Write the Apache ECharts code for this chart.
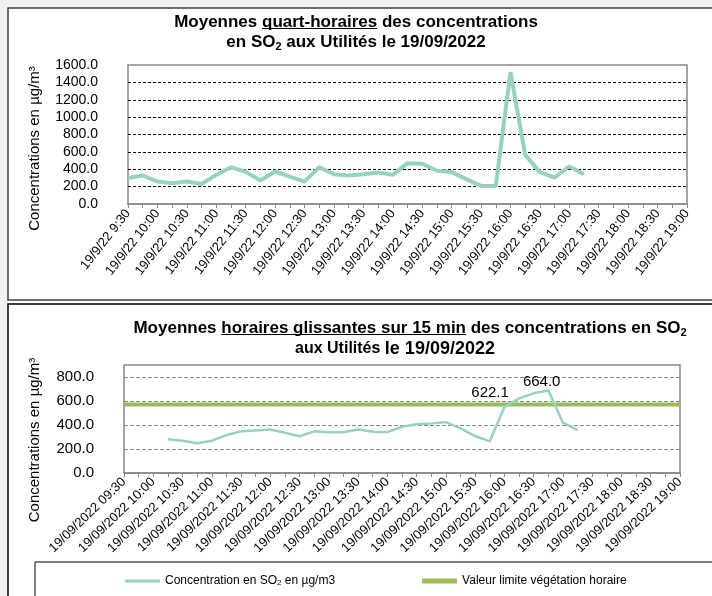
<!DOCTYPE html>
<html>
<head>
<meta charset="utf-8">
<script src="https://cdn.jsdelivr.net/npm/echarts@6/dist/echarts.min.js"></script>
<style>
html, body { margin: 0; padding: 0; background: #f0f0f0; }
#main { width: 712px; height: 596px; }
</style>
</head>
<body>
<div id="main"></div>
<script>
// quarter-hour slots of 19/09/2022
const times = [
  '09:30', '09:45', '10:00', '10:15', '10:30', '10:45', '11:00', '11:15', '11:30', '11:45',
  '12:00', '12:15', '12:30', '12:45', '13:00', '13:15', '13:30', '13:45', '14:00', '14:15',
  '14:30', '14:45', '15:00', '15:15', '15:30', '15:45', '16:00', '16:15', '16:30', '16:45',
  '17:00', '17:15', '17:30', '17:45', '18:00', '18:15', '18:30', '18:45', '19:00'
]

// SO2 quarter-hour means (µg/m3), 09:30 -> 17:15
const quarterValues = [
  300, 328, 258, 240, 258, 231, 335, 424, 370, 270,
  374, 316, 258, 424, 343, 328, 343, 362, 335, 470,
  463, 382, 367, 286, 208, 208, 1519, 567, 367, 305,
  432, 343
]

// sliding hourly means, first value at 10:15
const hourlyValues = [
  null, null, null, 281, 269, 248, 269, 316, 347, 355,
  363, 335, 306, 347, 339, 339, 363, 344, 341, 385,
  407, 413, 424, 372, 308, 264, 550, 622.1, 664.0, 688,
  419, 358
]

// hourly limit for vegetation
const limitValues = [
  570, 570, 570, 570, 570, 570, 570, 570, 570, 570,
  570, 570, 570, 570, 570, 570, 570, 570, 570, 570,
  570, 570, 570, 570, 570, 570, 570, 570, 570, 570,
  570, 570, 570, 570, 570, 570, 570, 570, 570
]

const topTicks = [0, 200, 400, 600, 800, 1000, 1200, 1400, 1600]
const bottomTicks = [0, 200, 400, 600, 800]

const FONT = "'Liberation Sans', Arial, sans-serif"
const LINE_COLOR = '#97d3bb'
const LIMIT_COLOR = '#9bbb59'

// labels drawn next to two points of the hourly curve
const labelOffsets = { 27: [-29, 8], 28: [8, 2] }

const underline = {
  type: 'linear', x: 0, y: 0, x2: 0, y2: 1,
  colorStops: [
    { offset: 0, color: 'rgba(0,0,0,0)' },
    { offset: 0.86, color: 'rgba(0,0,0,0)' },
    { offset: 0.86, color: '#000' },
    { offset: 0.93, color: '#000' },
    { offset: 0.93, color: 'rgba(0,0,0,0)' },
    { offset: 1, color: 'rgba(0,0,0,0)' }
  ]
}

const titleRich = {
  b: { fontSize: 17, fontWeight: 'bold', fontFamily: FONT, color: '#000', lineHeight: 20 },
  s: { fontSize: 16, fontWeight: 'bold', fontFamily: FONT, color: '#000', lineHeight: 20 },
  l: { fontSize: 18, fontWeight: 'bold', fontFamily: FONT, color: '#000', lineHeight: 20 },
  u: { fontSize: 17, fontWeight: 'bold', fontFamily: FONT, color: '#000', lineHeight: 20, backgroundColor: underline },
  sub: { fontSize: 11, fontWeight: 'bold', fontFamily: FONT, color: '#000', lineHeight: 11, verticalAlign: 'bottom' }
}

function yAxisOf(gridIndex, max, labelSize, gridColor, dash, gap, pad) {
  return {
    type: 'value',
    gridIndex: gridIndex,
    min: 0,
    max: max,
    interval: 200,
    name: 'Concentrations en µg/m³',
    nameLocation: 'middle',
    nameGap: gap,
    nameTextStyle: { fontFamily: FONT, fontSize: 15, color: '#000', padding: pad },
    axisLine: { show: false },
    axisTick: { show: false },
    axisLabel: {
      fontFamily: FONT, fontSize: labelSize, color: '#000', margin: 30,
      showMaxLabel: max === 1600,
      formatter: v => v.toFixed(1)
    },
    splitLine: {
      show: true, showMinLine: false, showMaxLine: false,
      lineStyle: { color: gridColor, type: dash, width: 1 }
    }
  }
}

function xAxisOf(gridIndex, fmt, size, angle) {
  return {
    type: 'category',
    gridIndex: gridIndex,
    data: times,
    boundaryGap: false,
    axisLine: { show: true, lineStyle: { color: '#888', width: 1.5 } },
    axisTick: { show: true, interval: 0, length: 4, lineStyle: { color: '#888' } },
    axisLabel: {
      interval: 1, rotate: angle, margin: 7,
      fontFamily: FONT, fontSize: size, color: '#000',
      formatter: fmt
    },
    splitLine: { show: false }
  }
}

const chart = echarts.init(document.getElementById('main'))

chart.setOption({
  backgroundColor: '#f0f0f0',
  animation: false,
  graphic: [
    { type: 'rect', z: -11, shape: { x: 8, y: 299, width: 720, height: 6 }, style: { fill: '#fff' } },
    { type: 'rect', z: -10, shape: { x: 8, y: 8, width: 720, height: 292 }, style: { fill: '#fff', stroke: '#404040', lineWidth: 1.5 } },
    { type: 'rect', z: -10, shape: { x: 8, y: 304, width: 720, height: 310 }, style: { fill: '#fff', stroke: '#000', lineWidth: 1.5 } }
  ],
  title: [
    {
      left: 'center', top: 12, padding: 0,
      text: '{b|Moyennes }{u|quart-horaires}{b| des concentrations}\n{b|en SO}{sub|2}{b| aux Utilités le 19/09/2022}',
      textStyle: { rich: titleRich }
    },
    {
      left: 410, top: 318, padding: 0, textAlign: 'center',
      text: '{b|Moyennes }{u|horaires glissantes sur 15 min}{b| des concentrations en SO}{sub|2}',
      textStyle: { rich: titleRich }
    },
    {
      left: 395, top: 339, padding: 0, textAlign: 'center',
      text: '{s|aux Utilités }{l|le 19/09/2022}',
      textStyle: { rich: titleRich }
    }
  ],
  grid: [
    { left: 128, top: 65, width: 559, height: 139, show: true, borderColor: '#888', borderWidth: 1.5, outerBoundsMode: 'none' },
    { left: 124, top: 365, width: 556, height: 108, show: true, borderColor: '#888', borderWidth: 1.5, outerBoundsMode: 'none' }
  ],
  xAxis: [
    xAxisOf(0, v => '19/9/22 ' + v.replace(/^0/, ''), 13, 52),
    xAxisOf(1, v => '19/09/2022 ' + v, 13, 44)
  ],
  yAxis: [
    yAxisOf(0, topTicks[topTicks.length - 1], 14, '#000', [3, 2], 86, [0, 28, 0, 0]),
    yAxisOf(1, 900, 15, '#888', [4, 2], 82, [0, 42, 0, 0])
  ],
  legend: {
    left: 35, top: 562, width: 560,
    padding: [13, 120, 12, 90],
    itemGap: 87, itemWidth: 35, itemHeight: 10,
    borderColor: '#000', borderWidth: 1, borderRadius: 0,
    data: [
      { name: 'Concentration en SO2 en µg/m3', icon: 'path://M0,0H35V3H0Z' },
      { name: 'Valeur limite végétation horaire', icon: 'path://M0,0H35V5H0Z' }
    ],
    textStyle: {
      fontFamily: FONT, fontSize: 12, color: '#000',
      rich: {
        t: { fontFamily: FONT, fontSize: 12, color: '#000' },
        sub: { fontFamily: FONT, fontSize: 8, color: '#000', lineHeight: 8, verticalAlign: 'bottom' }
      }
    },
    formatter: name => name.indexOf('SO2') >= 0
      ? '{t|Concentration en SO}{sub|2}{t| en µg/m3}'
      : '{t|' + name + '}'
  },
  series: [
    {
      name: 'Quart-horaire SO2',
      type: 'line',
      xAxisIndex: 0, yAxisIndex: 0,
      data: quarterValues,
      symbol: 'none',
      color: LINE_COLOR,
      lineStyle: { color: LINE_COLOR, width: 4 }
    },
    {
      name: 'Concentration en SO2 en µg/m3',
      type: 'line',
      xAxisIndex: 1, yAxisIndex: 1,
      data: hourlyValues.map((v, i) => labelOffsets[i]
        ? { value: v, symbol: 'circle', symbolSize: 1, label: { show: true, offset: labelOffsets[i] } }
        : v),
      symbol: 'none',
      color: LINE_COLOR,
      lineStyle: { color: LINE_COLOR, width: 2.5 },
      label: {
        show: false, position: 'top',
        fontFamily: FONT, fontSize: 15, color: '#000',
        formatter: p => p.value.toFixed(1)
      },
      z: 3
    },
    {
      name: 'Valeur limite végétation horaire',
      type: 'line',
      xAxisIndex: 1, yAxisIndex: 1,
      data: limitValues,
      symbol: 'none',
      color: LIMIT_COLOR,
      lineStyle: { color: LIMIT_COLOR, width: 4 },
      z: 2
    }
  ]
})
</script>
</body>
</html>
